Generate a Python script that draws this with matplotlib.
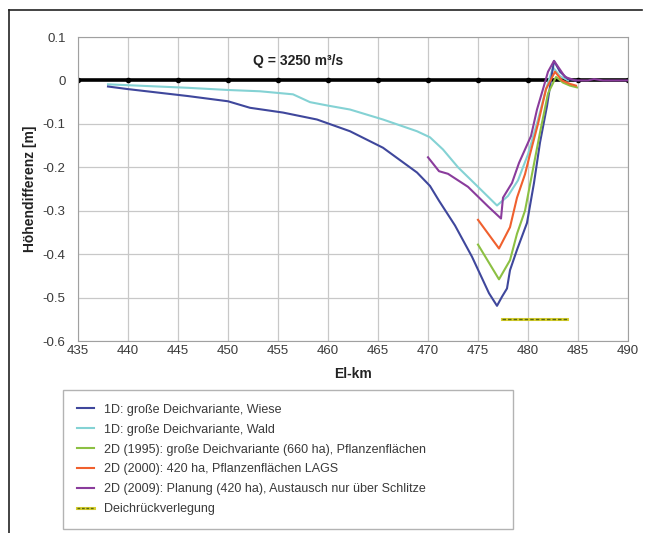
"""
Höhendifferenz entlang der Elbe (El-km) für Deichvarianten, Q = 3250 m³/s.
Recreated line chart -> out.png
"""
import numpy as np
import matplotlib
matplotlib.use("Agg")
import matplotlib.pyplot as plt
from matplotlib.lines import Line2D
from matplotlib.legend_handler import HandlerTuple

plt.rcParams["font.family"] = ["Liberation Sans", "DejaVu Sans"]

# --- data (El-km, Höhendifferenz in m) ---
KM_WIESE = [438, 440, 443, 446, 450, 452.2, 455.5, 458.9, 462.2, 465.5, 468.9, 470.2, 471.1,
            472.7, 474.4, 476.1, 476.9, 477.4, 477.9, 478.2, 478.9, 479.9, 480.6, 481.2, 481.9,
            482.6, 483.2, 484.0, 484.8]
DH_WIESE = [-0.014, -0.02, -0.028, -0.036, -0.048, -0.063, -0.074, -0.09, -0.117, -0.155, -0.212,
            -0.243, -0.277, -0.334, -0.406, -0.49, -0.519, -0.498, -0.479, -0.437, -0.39, -0.328,
            -0.236, -0.143, -0.059, 0.045, 0.02, 0.003, 0.0]

KM_WALD = [438, 442, 446, 450, 453.2, 456.5, 458.2, 460, 462.2, 465.5, 468.9, 470.2, 471.5,
           473, 475, 476.9, 478.0, 479.0, 480.0, 481.0, 481.8, 482.5, 483.2, 484.0]
DH_WALD = [-0.009, -0.013, -0.017, -0.022, -0.025, -0.032, -0.05, -0.058, -0.067, -0.09, -0.117,
           -0.131, -0.159, -0.2, -0.245, -0.288, -0.266, -0.23, -0.17, -0.09, -0.02, 0.03, 0.01, 0.0]

KM_1995 = [475, 477.1, 478.2, 478.9, 479.7, 480.4, 481.2, 482.0, 482.8, 483.5, 484.2, 484.9]
DH_1995 = [-0.378, -0.458, -0.414, -0.353, -0.3, -0.216, -0.12, -0.03, 0.008, -0.005, -0.012, -0.016]

KM_2000 = [475, 477.1, 478.2, 478.9, 479.7, 480.2, 481.0, 481.8, 482.7, 483.4, 484.2, 484.8]
DH_2000 = [-0.321, -0.387, -0.338, -0.27, -0.216, -0.17, -0.1, -0.02, 0.02, 0.0, -0.008, -0.012]

KM_2009 = [470, 471.1, 472, 474, 476, 477.3, 477.5, 478.4, 479.1, 480.3, 480.9, 481.5, 482.0,
           482.6, 483.2, 483.7, 484.7, 486.0, 486.6, 487.5, 490]
DH_2009 = [-0.177, -0.209, -0.215, -0.245, -0.29, -0.318, -0.27, -0.236, -0.19, -0.128, -0.067,
           -0.02, 0.02, 0.045, 0.025, 0.008, 0.0, 0.0, 0.003, 0.0, 0.0]

KM_DEICH = [477.4, 483.9]
DH_DEICH = [-0.55, -0.55]

KM_NULL = [435, 440, 445, 450, 455, 460, 465, 470, 475, 480, 485, 490]

Y_TICKS = [-0.6, -0.5, -0.4, -0.3, -0.2, -0.1, 0.0, 0.1]
Y_TICKLABELS = ["-0.6", "-0.5", "-0.4", "-0.3", "-0.2", "-0.1", "0", "0.1"]

LABELS = ["1D: große Deichvariante, Wiese",
          "1D: große Deichvariante, Wald",
          "2D (1995): große Deichvariante (660 ha), Pflanzenflächen",
          "2D (2000): 420 ha, Pflanzenflächen LAGS",
          "2D (2009): Planung (420 ha), Austausch nur über Schlitze",
          "Deichrückverlegung"]
COLORS = ["#3f479c", "#84d2d4", "#8cc043", "#f0602e", "#8a3c9c"]
TXT = "#3a3a3a"


def main():
    fig = plt.figure(figsize=(6.47, 5.33), dpi=100)
    ax = fig.add_axes([78 / 647, 1 - 341 / 533, 550 / 647, 304 / 533])

    # frame lines of the outer box (top + left)
    fig.add_artist(Line2D([9 / 647, 9 / 647], [0, 1 - 10 / 533], color="#222222", lw=1.2))
    fig.add_artist(Line2D([9 / 647, 642 / 647], [1 - 10 / 533, 1 - 10 / 533], color="#222222", lw=1.2))

    ax.plot(KM_NULL, np.zeros(len(KM_NULL)), color="black", lw=2.6, marker="o", ms=3, zorder=2)
    series = [(KM_WIESE, DH_WIESE), (KM_WALD, DH_WALD), (KM_1995, DH_1995),
              (KM_2000, DH_2000), (KM_2009, DH_2009)]
    handles = {}
    for i in [1, 0, 2, 3, 4]:
        km, dh = series[i]
        handles[i], = ax.plot(km, dh, color=COLORS[i], lw=1.5, zorder=3)
    ax.plot(KM_DEICH, DH_DEICH, color="#d8d030", lw=2.2, zorder=3)
    ax.plot(KM_DEICH, DH_DEICH, color="#5a6a10", lw=1.0, ls=(0, (2.5, 1.5)), zorder=4)

    ax.text(457, 0.045, "Q = 3250 m³/s", ha="center", va="center", fontsize=10,
            fontweight="bold", color="#222222")

    ax.set_xlim(435, 490)
    ax.set_ylim(-0.6, 0.1)
    ax.set_xticks(np.arange(435, 491, 5))
    ax.set_yticks(Y_TICKS)
    ax.set_yticklabels(Y_TICKLABELS)
    ax.grid(color="#c8c8c8", lw=0.9)
    ax.set_axisbelow(True)
    for s in ax.spines.values():
        s.set_color("#a0a0a0")
    ax.tick_params(length=0, labelsize=9.5, colors=TXT)
    ax.tick_params(axis="x", pad=3)
    ax.tick_params(axis="y", pad=9)
    ax.set_xlabel("El-km", fontsize=10, fontweight="bold", color="#222222", labelpad=7)
    ax.set_ylabel("Höhendifferenz [m]", fontsize=10, fontweight="bold", color="#222222", labelpad=4)

    h = [handles[i] for i in range(5)]
    deich = (Line2D([], [], color="#d8d030", lw=2.2),
             Line2D([], [], color="#5a6a10", lw=1.0, ls=(0, (2, 1.2))))
    leg = fig.legend(h + [deich], LABELS, loc="upper left",
                     bbox_to_anchor=(63 / 647, 5 / 533, 450 / 647, 138 / 533), mode="expand",
                     fontsize=9, frameon=True, fancybox=False, edgecolor="#a0a0a0",
                     handlelength=1.4, labelspacing=0.63, borderpad=1.1, borderaxespad=0,
                     handler_map={tuple: HandlerTuple(ndivide=1, pad=0)})
    for t in leg.get_texts():
        t.set_color(TXT)
    leg.get_frame().set_linewidth(1.0)

    fig.savefig("out.png", dpi=100)
    plt.close(fig)


if __name__ == "__main__":
    main()
